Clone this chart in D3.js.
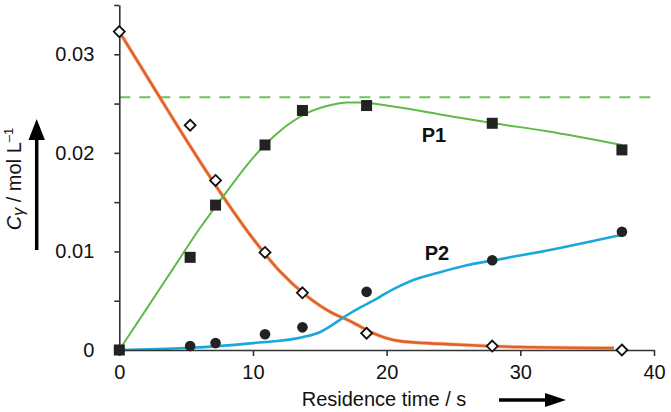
<!DOCTYPE html>
<html><head><meta charset="utf-8">
<script src="https://cdn.jsdelivr.net/npm/d3@7"></script>
<style>body{margin:0;background:#fff}svg{display:block;font-family:"Liberation Sans",Arial,sans-serif}</style>
</head><body><svg id="c" width="671" height="412"></svg>
<script>
// measured points
const diamondT = [0, 5.3, 7.2, 10.9, 13.7, 18.5, 27.9, 37.6];
const diamondV = [0.0323, 0.0228, 0.0172, 0.0099, 0.0058, 0.0017, 0.0004, 0.0000];
const squareT = [0, 5.3, 7.2, 10.9, 13.7, 18.5, 27.9, 37.6];
const squareV = [0.0000, 0.0094, 0.0147, 0.0208, 0.0243, 0.0248, 0.0230, 0.0203];
const circleT = [0, 5.3, 7.2, 10.9, 13.7, 18.5, 27.9, 37.6];
const circleV = [0.0000, 0.0004, 0.0007, 0.0016, 0.0023, 0.0059, 0.0091, 0.0120];
// model curves
const orangeT = [0, 2, 4, 6, 8, 10, 12, 14, 16, 17, 18, 19, 20, 21, 23, 26, 30, 37];
const orangeV = [0.0323, 0.0279, 0.0235, 0.0192, 0.0151, 0.0113, 0.0080, 0.0055, 0.0037, 0.0031, 0.0024, 0.0017, 0.0012, 0.0009, 0.0007, 0.0005, 0.0003, 0.0002];
const greenT = [0, 2, 4, 6, 8, 10, 12, 14, 16, 17, 18, 20, 24, 28, 32, 37.6];
const greenV = [0, 0.0041, 0.0082, 0.0123, 0.0160, 0.0195, 0.0222, 0.0240, 0.0249, 0.0251, 0.0251, 0.0248, 0.0239, 0.0230, 0.0222, 0.0208];
const blueT = [0, 5, 10, 13.7, 15, 16, 17, 18, 19, 19.5, 20, 21, 22, 24, 26, 28, 32, 37.6];
const blueV = [0, 0.0002, 0.0007, 0.0013, 0.0018, 0.0026, 0.0035, 0.0043, 0.0050, 0.0054, 0.0058, 0.0065, 0.0071, 0.0079, 0.0086, 0.0091, 0.0101, 0.0117];
const plateau = 0.02563;
const xTicks = [0, 10, 20, 30, 40];
const yTicks = [0, 0.005, 0.01, 0.015, 0.02, 0.025, 0.03, 0.035];
const yLabels = {0: "0", 0.01: "0.01", 0.02: "0.02", 0.03: "0.03"};

const svg = d3.select("#c");
const x = d3.scaleLinear().domain([0, 40]).range([119.3, 654]);
const y = d3.scaleLinear().domain([0, 0.035]).range([350, 5]);
const zip = (a, b) => a.map((t, i) => [t, b[i]]);
const line = d3.line().x(d => x(d[0])).y(d => y(d[1])).curve(d3.curveMonotoneX);

// dashed plateau
svg.append("line").attr("x1", x(0)).attr("x2", x(40)).attr("y1", y(plateau)).attr("y2", y(plateau))
  .attr("stroke", "#6cc35a").attr("stroke-width", 2).attr("stroke-dasharray", "11,9");

svg.append("path").attr("d", line(zip(orangeT, orangeV))).attr("fill", "none")
  .attr("stroke", "#f2b37a").attr("stroke-width", 4).attr("opacity", 0.6);
svg.append("path").attr("d", line(zip(orangeT, orangeV))).attr("fill", "none")
  .attr("stroke", "#e2602a").attr("stroke-width", 2.6);
svg.append("path").attr("d", line(zip(greenT, greenV))).attr("fill", "none")
  .attr("stroke", "#5dbb46").attr("stroke-width", 2);
svg.append("path").attr("d", line(zip(blueT, blueV))).attr("fill", "none")
  .attr("stroke", "#1aa8dc").attr("stroke-width", 2.6);

// axes
const ax = svg.append("g").attr("transform", `translate(${x(0)},0)`)
  .call(d3.axisLeft(y).tickValues(yTicks).tickSize(5).tickSizeOuter(0).tickPadding(20)
    .tickFormat(d => yLabels[d] !== undefined ? yLabels[d] : ""));
const bx = svg.append("g").attr("transform", `translate(0,${y(0)})`)
  .call(d3.axisBottom(x).tickValues(xTicks).tickSize(6).tickSizeOuter(0).tickPadding(9));
[ax, bx].forEach(g => {
  g.selectAll("path,line").attr("stroke", "#333").attr("stroke-width", 1.6);
  g.selectAll("text").attr("font-size", 20).attr("fill", "#111").attr("font-family", "Liberation Sans, Arial, sans-serif");
});

// markers
const sym = svg.append("g");
sym.selectAll(".sq").data(zip(squareT, squareV)).join("rect")
  .attr("x", d => x(d[0]) - 5.5).attr("y", d => y(d[1]) - 5.5).attr("width", 11).attr("height", 11).attr("fill", "#222");
sym.selectAll(".ci").data(zip(circleT, circleV)).join("circle")
  .attr("cx", d => x(d[0])).attr("cy", d => y(d[1])).attr("r", 5.3).attr("fill", "#222");
sym.selectAll(".di").data(zip(diamondT, diamondV)).join("path")
  .attr("d", d => { const cx = x(d[0]), cy = y(d[1]), r = 5.5; return `M${cx},${cy-r}L${cx+r},${cy}L${cx},${cy+r}L${cx-r},${cy}Z`; })
  .attr("fill", "#fff").attr("stroke", "#111").attr("stroke-width", 1.8);

// labels
svg.append("text").attr("x", 434).attr("y", 141.5).attr("text-anchor", "middle").attr("font-size", 20).attr("font-weight", "bold").attr("fill", "#111").text("P1");
svg.append("text").attr("x", 437).attr("y", 260).attr("text-anchor", "middle").attr("font-size", 20).attr("font-weight", "bold").attr("fill", "#111").text("P2");

svg.append("text").attr("x", 384).attr("y", 406).attr("text-anchor", "middle").attr("font-size", 20).attr("fill", "#111").text("Residence time / s");
// x arrow
svg.append("line").attr("x1", 499).attr("x2", 548).attr("y1", 400).attr("y2", 400).attr("stroke", "#000").attr("stroke-width", 3.5);
svg.append("path").attr("d", "M545,393L566,400L545,407Z").attr("fill", "#000");

// y label
const yl = svg.append("text").attr("transform", "translate(21,179) rotate(-90)").attr("text-anchor", "middle")
  .attr("font-size", 20).attr("fill", "#111");
yl.append("tspan").attr("font-style", "italic").text("C");
yl.append("tspan").attr("font-style", "italic").attr("font-size", 16).attr("dy", 3).text("γ");
yl.append("tspan").attr("dy", -3).text(" / mol L");
yl.append("tspan").attr("font-size", 13).attr("dy", -8).text("–1");
// y arrow
svg.append("line").attr("x1", 36.7).attr("x2", 36.7).attr("y1", 250).attr("y2", 137).attr("stroke", "#000").attr("stroke-width", 3.5);
svg.append("path").attr("d", "M28.5,140L36.7,119L44.9,140Z").attr("fill", "#000");
</script></body></html>
